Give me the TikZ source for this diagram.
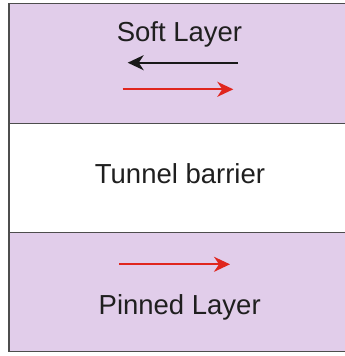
\documentclass[tikz,border=0pt]{standalone}
\usepackage{fontspec}
\setmainfont{Liberation Sans}
\usetikzlibrary{arrows.meta}
\definecolor{layerfill}{HTML}{E1CDEA}
\definecolor{edge}{HTML}{4D4D4D}
\definecolor{spinred}{HTML}{E0261E}
\begin{document}
\begin{tikzpicture}[x=1pt,y=-1pt,
  layer/.style={draw=edge, line width=1.4pt},
  lbl/.style={anchor=base, font=\fontsize{27.5}{32}\selectfont, text=black!88, inner sep=0pt},
  spin/.style={line width=1.7pt, -{Stealth[length=16pt,width=15pt,inset=5pt]}}]
\useasboundingbox (0,0) rectangle (345,356);
\clip (0,0) rectangle (345,356);
\fill[white] (0,0) rectangle (345,356);
\draw[layer, fill=layerfill] (9,3.5) rectangle (360,123.5);
\draw[layer, fill=white] (9,123.5) rectangle (360,232.5);
\draw[layer, fill=layerfill] (9,232.5) rectangle (360,351.5);
\node[lbl] (soft) at (179.5,41.7) {Soft Layer};
\node[lbl] (tunnel) at (180,183.3) {Tunnel barrier};
\node[lbl] (pinned) at (179.7,314.3) {Pinned Layer};
\coordinate (s1a) at (238,62.7);
\coordinate (s1b) at (127.7,62.7);
\coordinate (s2a) at (122.7,89.3);
\coordinate (s2b) at (233.3,89.3);
\coordinate (p1a) at (119.3,264.3);
\coordinate (p1b) at (230,264.3);
\draw[spin, black!90] (s1a) -- (s1b);
\draw[spin, spinred] (s2a) -- (s2b);
\draw[spin, spinred] (p1a) -- (p1b);
\end{tikzpicture}
\end{document}
